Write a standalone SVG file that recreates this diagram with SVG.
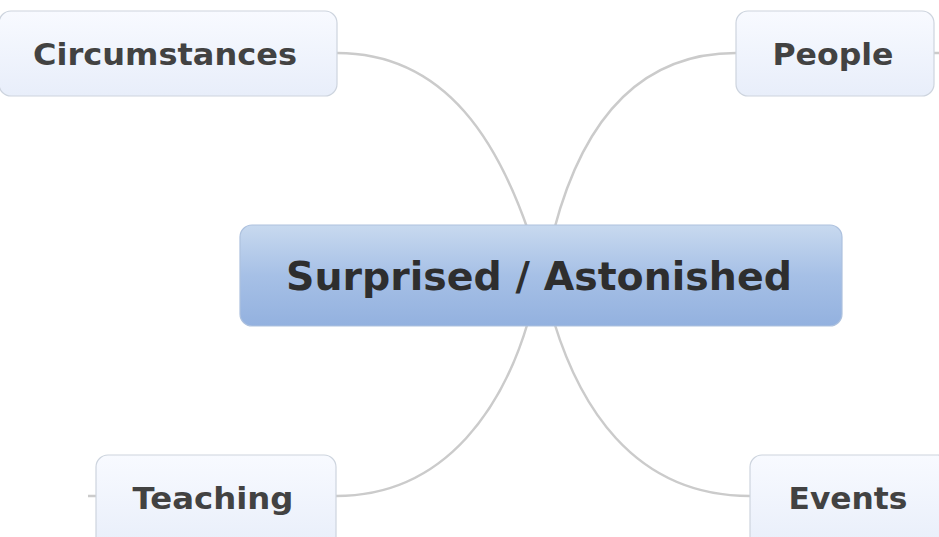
<svg xmlns="http://www.w3.org/2000/svg" width="939" height="537" viewBox="0 0 939 537">
<defs>
<linearGradient id="gSub" x1="0" y1="0" x2="0" y2="1">
<stop offset="0" stop-color="#f8faff"/>
<stop offset="1" stop-color="#e8eefa"/>
</linearGradient>
<linearGradient id="gMain" x1="0" y1="0" x2="0" y2="1">
<stop offset="0" stop-color="#c8d9ef"/>
<stop offset="0.5" stop-color="#a6c0e6"/>
<stop offset="1" stop-color="#93b1df"/>
</linearGradient>
</defs>
<style>
.sub{fill:url(#gSub);stroke:#cdd4de;stroke-width:1.2}
.main{fill:url(#gMain);stroke:#adc1de;stroke-width:1.2}
.lbl{font-family:"DejaVu Sans",Verdana,sans-serif;font-weight:bold;fill:#424242;text-anchor:middle}
.conn{fill:none;stroke:#cbcbcb;stroke-width:2.5}
</style>
<rect width="939" height="537" fill="#ffffff"/>
<g id="connectors">
<path class="conn" d="M337,53 C450,53 500,150 528,230"/>
<path class="conn" d="M736,53 C620,53 575,150 554,230"/>
<path class="conn" d="M336,496 C450,496 505,400 528,322"/>
<path class="conn" d="M750,496 C630,496 578,400 554,322"/>
<path class="conn" d="M934,53 L939,53"/>
<path class="conn" d="M88,496 L96,496"/>
</g>
<g id="circumstances">
<rect class="sub" x="-1" y="11" width="338" height="85" rx="12"/>
<text class="lbl" x="165" y="65" font-size="30" textLength="264" lengthAdjust="spacingAndGlyphs">Circumstances</text>
</g>
<g id="people">
<rect class="sub" x="736" y="11" width="198" height="85" rx="12"/>
<text class="lbl" x="833" y="65" font-size="30" textLength="121" lengthAdjust="spacingAndGlyphs">People</text>
</g>
<g id="teaching">
<rect class="sub" x="96" y="455" width="240" height="95" rx="12"/>
<text class="lbl" x="213" y="509" font-size="30" textLength="161" lengthAdjust="spacingAndGlyphs">Teaching</text>
</g>
<g id="events">
<rect class="sub" x="750" y="455" width="200" height="95" rx="12"/>
<text class="lbl" x="848" y="509" font-size="30" textLength="119" lengthAdjust="spacingAndGlyphs">Events</text>
</g>
<g id="central">
<rect class="main" x="240" y="225" width="602" height="101" rx="12"/>
<text class="lbl" x="539" y="290" font-size="39" style="fill:#2e2e2e" textLength="506" lengthAdjust="spacingAndGlyphs">Surprised / Astonished</text>
</g>
</svg>
